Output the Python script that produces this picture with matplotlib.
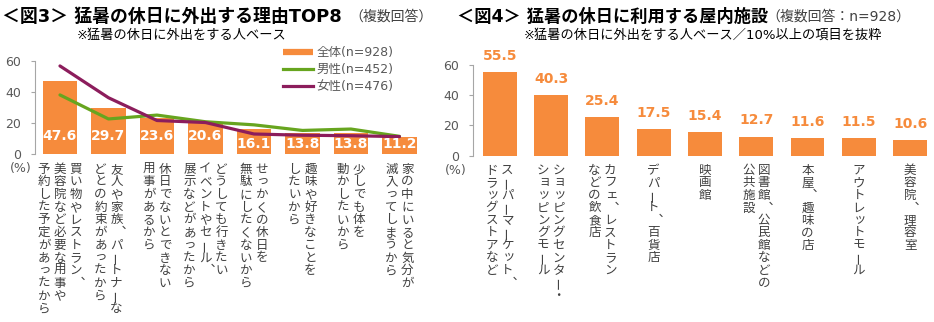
import matplotlib.pyplot as plt
import numpy as np
from matplotlib.lines import Line2D

plt.rcParams['font.family'] = ['DejaVu Sans', 'Noto Sans CJK JP']

# Fig.3: reasons for going out on very hot days (multiple answers)
reasons = [
    "買い物やレストラン、\n美容院など必要な用事や\n予約した予定があったから",
    "友人や家族、パートナーな\nどとの約束があったから",
    "休日でないとできない\n用事があるから",
    "どうしても行きたい\nイベントやセール、\n展示などがあったから",
    "せっかくの休日を\n無駄にしたくないから",
    "趣味や好きなことを\nしたいから",
    "少しでも体を\n動かしたいから",
    "家の中にいると気分が\n滅入ってしまうから",
]
total = np.array([47.6, 29.7, 23.6, 20.6, 16.1, 13.8, 13.8, 11.2])
male = np.array([38.3, 22.8, 25.3, 21.0, 19.0, 15.4, 16.3, 11.6])
female = np.array([57.0, 36.5, 21.8, 20.5, 13.1, 12.3, 12.0, 11.4])

# Fig.4: indoor facilities used on very hot days (>= 10%)
facilities = [
    "スーパーマーケット、\nドラッグストアなど",
    "ショッピングセンター・\nショッピングモール",
    "カフェ、レストラン\nなどの飲食店",
    "デパート、百貨店",
    "映画館",
    "図書館、公民館などの\n公共施設",
    "本屋、趣味の店",
    "アウトレットモール",
    "美容院、理容室",
]
facility_share = np.array([55.5, 40.3, 25.4, 17.5, 15.4, 12.7, 11.6, 11.5, 10.6])

ORANGE = '#F68B3C'
GREEN = '#67A51F'
PURPLE = '#8C1D5C'
GREY = '#595959'
TEXT = '#404040'
PX = 0.72  # points per pixel at dpi 100

W, H = 934, 322
fig = plt.figure(figsize=(9.34, 3.22), dpi=100)

# vertical presentation forms for punctuation
VERT = {'、': '\ufe11', '。': '\ufe12'}


def axes_px(left, top, right, bottom):
    return fig.add_axes([left / W, 1 - bottom / H, (right - left) / W, (bottom - top) / H])


def style_axis(ax, pct_dx):
    for s in ('top', 'right', 'bottom'):
        ax.spines[s].set_visible(False)
    ax.spines['left'].set_color('#A6A6A6')
    ax.set_ylim(0, 60)
    ax.set_yticks([0, 20, 40, 60])
    ax.tick_params(axis='y', direction='out', length=3, width=0.8, color='#A6A6A6',
                   labelsize=9, labelcolor=GREY, pad=7)
    ax.set_xticks([])
    ax.annotate('(%)', xy=(0, 0), xycoords='axes fraction', xytext=(pct_dx * PX, -14.5 * PX),
                textcoords='offset points', ha='center', va='center', fontsize=9, color=GREY)


def vertical_label(ax, x, text, col_pitch=16, char_pitch=12.7, top=8.5, fs=9):
    # Japanese vertical writing: columns run right to left, characters top to bottom
    cols = text.split('\n')
    n = len(cols)
    em = fs / PX
    for j, col in enumerate(cols):
        dx = ((n - 1) / 2 - j) * col_pitch
        for i, ch in enumerate(col):
            dy = -(top + (i + 0.5) * char_pitch)
            ox = oy = 0
            rot = 0
            if ch in VERT:
                ch = VERT[ch]
                ox = 0.25 * em
            elif ch == 'ー':
                rot = 90
            elif ch in 'っッャュョゃゅょァィェォ':
                ox, oy = 0.1 * em, 0.1 * em
            ax.annotate(ch, xy=(x, 0), xycoords=('data', 'axes fraction'),
                        xytext=((dx + ox) * PX, (dy + oy) * PX), textcoords='offset points',
                        ha='center', va='center', rotation=rot, fontsize=fs, color=TEXT,
                        family=['Noto Sans CJK JP', 'DejaVu Sans'])


# ---- left chart ----
ax1 = axes_px(35, 61.3, 35 + 386.3, 154.3)
x1 = np.arange(len(total))
ax1.bar(x1, total, width=0.71, color=ORANGE, zorder=1)
ax1.plot(x1, male, color=GREEN, lw=2.3, zorder=3, solid_capstyle='round')
ax1.plot(x1, female, color=PURPLE, lw=2.3, zorder=3, solid_capstyle='round')
ax1.set_xlim(-0.515, 7.45)
style_axis(ax1, -14)
lab_y = np.where(total >= 20, 11.8, 6.6)
for xi, v, ly in zip(x1, total, lab_y):
    ax1.text(xi, ly, f'{v:.1f}', ha='center', va='center', color='white',
             fontsize=10, fontweight='bold', zorder=4)
for xi, t in zip(x1, reasons):
    vertical_label(ax1, xi, t)

handles = [Line2D([], [], color=ORANGE, lw=4.5, solid_capstyle='butt'),
           Line2D([], [], color=GREEN, lw=2.3),
           Line2D([], [], color=PURPLE, lw=2.3)]
fig.legend(handles, ['全体(n=928)', '男性(n=452)', '女性(n=476)'],
           loc='upper left', bbox_to_anchor=(283 / W, 1 - 46 / H), frameon=False,
           borderpad=0, borderaxespad=0, handlelength=2.4, handletextpad=0.3,
           labelspacing=0.32, fontsize=9, labelcolor=GREY)

# ---- right chart ----
ax2 = axes_px(473.3, 65, 473.3 + 459.9, 155.7)
x2 = np.arange(len(facility_share))
ax2.bar(x2, facility_share, width=0.66, color=ORANGE)
ax2.set_xlim(-0.515, 8.45)
style_axis(ax2, -18)
for xi, v in zip(x2, facility_share):
    ax2.annotate(f'{v:.1f}', xy=(xi, v), xytext=(0, 6.5), textcoords='offset points',
                 ha='center', va='bottom', color=ORANGE, fontsize=10, fontweight='bold',
                 annotation_clip=False)
for xi, t in zip(x2, facilities):
    vertical_label(ax2, xi, t, col_pitch=15.5, char_pitch=12.5)

# ---- titles ----
fig.text(2 / W, 1 - 17 / H, '＜図3＞ 猛暑の休日に外出する理由TOP8', fontsize=12.9,
         fontweight='bold', va='center', ha='left', color='black')
fig.text(349 / W, 1 - 17 / H, '（複数回答）', fontsize=10, va='center', ha='left', color=TEXT)
fig.text(77 / W, 1 - 35 / H, '※猛暑の休日に外出をする人ベース', fontsize=9.5, va='center',
         ha='left', color='black')

fig.text(457 / W, 1 - 17 / H, '＜図4＞ 猛暑の休日に利用する屋内施設', fontsize=12.4,
         fontweight='bold', va='center', ha='left', color='black')
fig.text(766 / W, 1 - 17 / H, '（複数回答：n=928）', fontsize=10, va='center', ha='left', color=TEXT)
fig.text(524 / W, 1 - 35 / H, '※猛暑の休日に外出をする人ベース／10%以上の項目を抜粋', fontsize=9.5,
         va='center', ha='left', color='black')

fig.savefig('out.png', dpi=100)
